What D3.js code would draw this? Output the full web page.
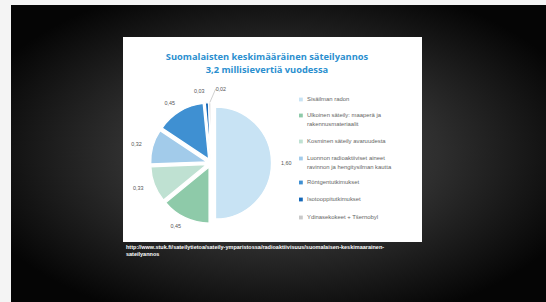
<!DOCTYPE html>
<html><head><meta charset="utf-8">
<script src="https://cdn.jsdelivr.net/npm/d3@7"></script>
<style>html,body{margin:0;padding:0;background:#fff;}svg{display:block;}</style>
</head><body>
<svg id="c" width="546" height="302"></svg>
<script>
const categories = ["Sisäilman radon","Ulkoinen säteily: maaperä ja rakennusmateriaalit","Kosminen säteily avaruudesta","Luonnon radioaktiiviset aineet ravinnon ja hengitysilman kautta","Röntgentutkimukset","Isotooppitutkimukset","Ydinasekokeet + Tšernobyl"];
const legendLines = [["Sisäilman radon"],["Ulkoinen säteily: maaperä ja","rakennusmateriaalit"],["Kosminen säteily avaruudesta"],["Luonnon radioaktiiviset aineet","ravinnon ja hengitysilman kautta"],["Röntgentutkimukset"],["Isotooppitutkimukset"],["Ydinasekokeet + Tšernobyl"]];
const values = [1.60, 0.45, 0.33, 0.32, 0.45, 0.03, 0.02];
const valueLabels = ["1,60","0,45","0,33","0,32","0,45","0,03","0,02"];
const colors = ["#c8e3f4","#8ecaa9","#bfe1d2","#a2cbea","#3f90d2","#1568b8","#c9c9c9"];
const titleLines = ["Suomalaisten keskimääräinen säteilyannos","3,2 millisievertiä vuodessa"];
const sourceLines = ["http://www.stuk.fi/sateilytietoa/sateily-ymparistossa/radioaktiivisuus/suomalaisen-keskimaarainen-","sateilyannos"];

const svg = d3.select("#c");
const defs = svg.append("defs");
const rg = defs.append("radialGradient").attr("id","bg").attr("cx","50%").attr("cy","50%").attr("r","60%");
rg.append("stop").attr("offset","0%").attr("stop-color","#4d4d4d");
rg.append("stop").attr("offset","50%").attr("stop-color","#2e2e2e");
rg.append("stop").attr("offset","100%").attr("stop-color","#050505");
svg.append("rect").attr("width",546).attr("height",302).attr("fill","#f4f4f4");
svg.append("rect").attr("x",11).attr("y",5).attr("width",535).attr("height",297).attr("fill","url(#bg)");

// white chart box
svg.append("rect").attr("x",123).attr("y",37).attr("width",299).attr("height",205).attr("fill","#fff");

// title
svg.append("g").selectAll("text").data(titleLines).join("text")
  .attr("x",267).attr("y",(d,i)=>60+i*12.5).attr("text-anchor","middle")
  .attr("font-family","Open Sans, Liberation Sans, sans-serif").attr("font-weight","bold")
  .attr("font-size",9.3).attr("fill","#2b8fcf").text(d=>d);

// pie
const cx=211, cy=163, r=56, off=4.5;
const pie = d3.pie().sort(null).value(d=>d).startAngle(0).endAngle(2*Math.PI);
const arcs = pie(values);
const arc = d3.arc().innerRadius(0).outerRadius(r);
const g = svg.append("g").attr("transform",`translate(${cx},${cy})`);
g.selectAll("path").data(arcs).join("path")
  .attr("d",arc)
  .attr("fill",(d,i)=>colors[i])
  .attr("stroke","#fff").attr("stroke-width",1.3)
  .attr("transform",d=>{const a=(d.startAngle+d.endAngle)/2;return `translate(${Math.sin(a)*off},${-Math.cos(a)*off})`;});

// value labels
const labelR = r+14;
const nudge = [[0,0],[0,0],[-2,0],[-2,0],[0,0],[-7,-2],[6,-4]];
g.selectAll("text.v").data(arcs).join("text").attr("class","v")
  .attr("font-family","Liberation Sans, Arial, sans-serif").attr("font-size",5.4).attr("fill","#555")
  .attr("text-anchor",(d,i)=>{const a=(d.startAngle+d.endAngle)/2; if(i===6) return "start"; return Math.sin(a)>0.3?"start":(Math.sin(a)<-0.3?"end":"middle");})
  .attr("x",(d,i)=>Math.sin((d.startAngle+d.endAngle)/2)*labelR+nudge[i][0])
  .attr("y",(d,i)=>-Math.cos((d.startAngle+d.endAngle)/2)*labelR+nudge[i][1]+2)
  .text((d,i)=>valueLabels[i]);
{
  const d=arcs[6]; const a=(d.startAngle+d.endAngle)/2;
  g.append("line").attr("x1",Math.sin(a)*(r+off)).attr("y1",-Math.cos(a)*(r+off))
    .attr("x2",Math.sin(a)*labelR+nudge[6][0]).attr("y2",-Math.cos(a)*labelR+nudge[6][1])
    .attr("stroke","#888").attr("stroke-width",0.4);
}

// legend
const legendY = [101,117,143,160,184,201,219];
const lg = svg.append("g");
legendLines.forEach((lines,i)=>{
  lg.append("rect").attr("x",299).attr("y",legendY[i]-3.4).attr("width",3.8).attr("height",3.8).attr("fill",colors[i]);
  lines.forEach((t,j)=>{
    lg.append("text").attr("x",307).attr("y",legendY[i]+j*8.8).attr("font-family","Liberation Sans, Arial, sans-serif")
      .attr("font-size",5.9).attr("fill","#666").text(t);
  });
});

// source
svg.append("g").selectAll("text").data(sourceLines).join("text")
  .attr("x",126).attr("y",(d,i)=>249+i*7).attr("font-family","Liberation Sans, Arial, sans-serif")
  .attr("font-weight","bold").attr("font-size",5.5).attr("fill","#fff").text(d=>d);
</script>
</body></html>
